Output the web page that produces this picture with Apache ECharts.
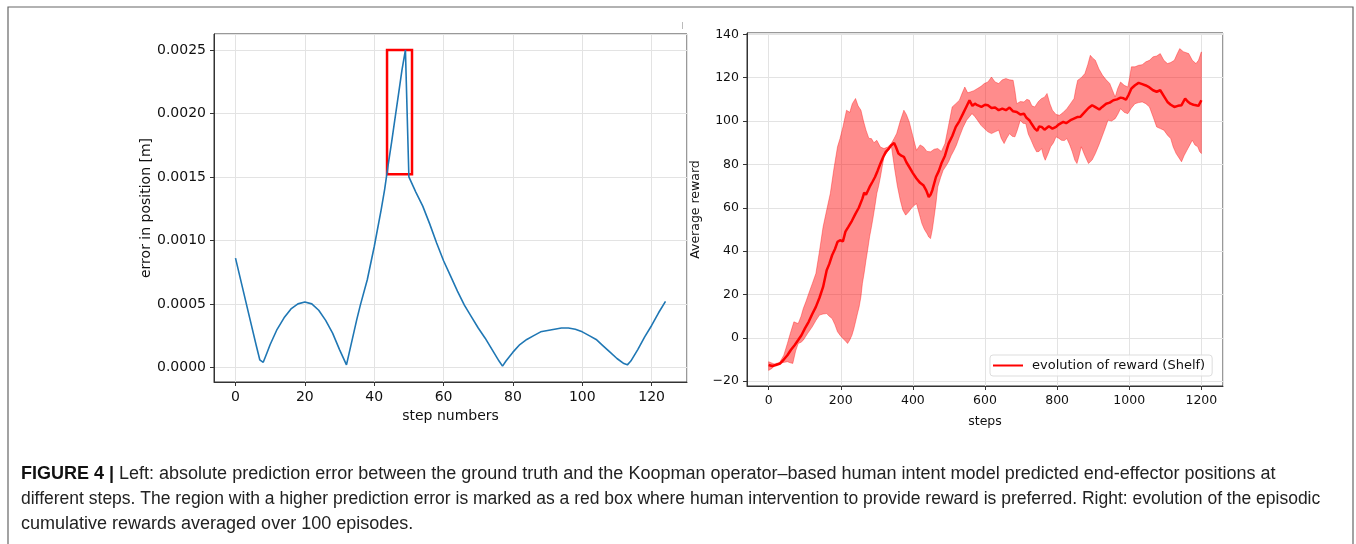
<!DOCTYPE html>
<html>
<head>
<meta charset="utf-8">
<style>
  html, body { margin: 0; padding: 0; background: #fff; }
  #main { width: 1356px; height: 544px; }
</style>
<script src="https://cdn.jsdelivr.net/npm/echarts@6/dist/echarts.min.js"></script>
</head>
<body>
<div id="main"></div>
<script>
// left panel: error in position vs step number
const errorSteps = [
  [0, 0.00086], [2, 0.00063], [4, 0.00040], [6, 0.00017], [7, 0.00006], [8, 0.00004],
  [9, 0.00011], [10, 0.00018], [12, 0.00030], [14, 0.00039], [16, 0.00046], [18, 0.00050],
  [20, 0.000515], [22, 0.00050], [24, 0.00045], [26, 0.00037], [28, 0.00027], [30, 0.00014],
  [32, 0.00002], [33, 0.00014], [34, 0.00026], [35, 0.00038], [36, 0.00049], [38, 0.00069],
  [40, 0.00095], [42, 0.00124], [43, 0.00140], [44, 0.00159], [45, 0.00177], [46, 0.00196],
  [47, 0.00215], [48, 0.00234], [49, 0.0025], [50, 0.00150], [52, 0.00138], [54, 0.00127],
  [56, 0.00113], [58, 0.00098], [60, 0.00084], [62, 0.00072], [64, 0.00060], [66, 0.00049],
  [68, 0.00040], [70, 0.00031], [72, 0.00023], [74, 0.00014], [76, 0.00005], [77, 0.00001],
  [78, 0.00005], [80, 0.00012], [82, 0.00018], [84, 0.00022], [86, 0.00025], [88, 0.00028],
  [90, 0.00029], [92, 0.00030], [94, 0.00031], [96, 0.00031], [98, 0.00030], [100, 0.00028],
  [102, 0.00025], [104, 0.00022], [106, 0.00017], [108, 0.00012], [110, 0.00007], [112, 0.00003],
  [113, 0.00002], [114, 0.00005], [116, 0.00014], [118, 0.00024], [120, 0.00033], [122, 0.00043],
  [124, 0.00052]
];
// red box marking the high-error region: [step from, step to], [error from, error to]
const boxSteps = [43.7, 50.9];
const boxError = [0.00152, 0.0025];

// right panel: average reward vs steps
const rewardMean = [
  [0, -12.5], [10, -13], [20, -12.5], [32, -11.8], [42, -10], [52, -8], [62, -5.5], [72, -3.4],
  [82, -1], [91, 1.2], [101, 4.5], [111, 7.4], [121, 11], [131, 14.3], [141, 18.5], [151, 23.5],
  [161, 31.2], [168, 34], [176, 38.1], [184, 41], [191, 44.3], [198, 45], [206, 44.5], [213, 49],
  [221, 51.2], [231, 54], [241, 57.3], [250, 60], [260, 64.2], [265, 67], [270, 66], [280, 69.6],
  [288, 72], [295, 74.2], [302, 77], [310, 80.4], [318, 83.5], [325, 85.8], [332, 87], [340, 88.8],
  [348, 89.9], [353, 88], [360, 85], [368, 84], [375, 83.5], [382, 81], [390, 78.8], [400, 76],
  [410, 73.5], [420, 71.5], [429, 70.4], [437, 68], [444, 65], [449, 66], [454, 68.1], [464, 74.2],
  [472, 77], [479, 80.4], [489, 84], [499, 89.6], [509, 93], [519, 97.3], [529, 100], [539, 103.4],
  [548, 106.5], [557, 109.6], [565, 107], [572, 108], [579, 107.3], [590, 106.5], [600, 107.5],
  [608, 107.3], [618, 106], [628, 106.2], [638, 105], [648, 105.7], [658, 105], [668, 106.2],
  [678, 104.5], [688, 104.2], [698, 103], [708, 103.4], [715, 101.5], [723, 100.4], [730, 98.5],
  [738, 96.5], [745, 95.5], [750, 97.5], [757, 97.3], [765, 96], [777, 97.6], [787, 96.5],
  [797, 97.3], [805, 98.5], [817, 99.6], [825, 99], [837, 100.4], [845, 101], [857, 101.9],
  [865, 102], [877, 104.2], [887, 106], [897, 107.3], [905, 106.5], [917, 105.3], [925, 106.5],
  [936, 108], [946, 108.5], [956, 109.6], [966, 110], [976, 110.8], [984, 110.5], [991, 109.9],
  [998, 112], [1006, 115], [1016, 116.5], [1026, 117.6], [1036, 117], [1046, 116.4], [1056, 115.5],
  [1066, 114.2], [1076, 113.5], [1086, 114.2], [1096, 111.5], [1106, 108.8], [1115, 107.5],
  [1125, 106.5], [1135, 107], [1145, 107.3], [1155, 110.4], [1162, 109], [1170, 108], [1178, 107.5],
  [1185, 107.3], [1192, 107], [1200, 109.6]
];
const rewardUpper = [
  [0, -11], [15, -12], [30, -11.5], [42, -8], [52, -2.6], [60, 2], [70, 7.4], [76, 7], [82, 6.6],
  [90, 10], [96, 13.5], [104, 17], [111, 20.4], [121, 25], [131, 29.7], [141, 40], [151, 51.2],
  [161, 59], [171, 66.6], [181, 78], [191, 88.1], [198, 92], [206, 97.3], [216, 105], [225, 104],
  [232, 108], [241, 110.4], [248, 107], [256, 105], [263, 100], [270, 95.8], [278, 92], [285, 91.9],
  [292, 90], [300, 91.1], [310, 88], [320, 87.3], [330, 88], [340, 89.6], [348, 92], [355, 94.2],
  [365, 100], [375, 105], [382, 103], [390, 99.6], [400, 93], [410, 86.5], [420, 89], [429, 88.1],
  [439, 86], [449, 85.8], [459, 87], [469, 87.3], [479, 86], [489, 89.6], [499, 98], [509, 106.5],
  [519, 108], [529, 109.6], [537, 113], [544, 115.7], [552, 113], [559, 113.4], [569, 114],
  [579, 115], [589, 116], [598, 117.3], [608, 118], [618, 120.3], [628, 118], [638, 117.3],
  [648, 119], [658, 119.6], [668, 119], [678, 118.8], [683, 114], [688, 108], [698, 109],
  [708, 108.8], [716, 110], [723, 109.6], [730, 107], [738, 106.5], [748, 109], [757, 110.4],
  [765, 111], [772, 112.7], [780, 108], [787, 105], [797, 103], [807, 102.7], [817, 104],
  [827, 105.7], [837, 108], [847, 110.4], [852, 115], [857, 118.8], [867, 120], [877, 121.9],
  [885, 126], [892, 130.3], [899, 129], [906, 128], [916, 124], [926, 121.1], [936, 119],
  [946, 117.3], [954, 114], [961, 111.1], [968, 115], [976, 118], [986, 116.5], [996, 115.7],
  [1001, 120], [1006, 125], [1016, 125], [1026, 125.7], [1036, 126], [1046, 127.3], [1056, 128],
  [1066, 129.6], [1076, 130], [1086, 131.1], [1096, 128], [1106, 126.5], [1115, 127], [1125, 128],
  [1133, 131], [1140, 133.4], [1150, 132], [1165, 131.1], [1175, 128], [1185, 126.5], [1192, 128],
  [1200, 131.9]
];
const rewardLower = [
  [0, -15], [10, -14], [22, -11.8], [37, -11.5], [52, -11], [60, -11.5], [67, -11.8], [75, -6],
  [82, -2.6], [90, -2], [96, -1.1], [108, 2], [121, 5.1], [131, 8], [141, 10.5], [151, 11],
  [161, 11.2], [168, 10], [176, 8.9], [184, 6], [191, 2.8], [199, 1], [206, -0.3], [213, -1.5],
  [219, -2.6], [225, -1], [231, 1.2], [236, 4], [241, 7.4], [246, 11], [251, 14.3], [256, 19],
  [260, 25.1], [265, 30], [270, 35.8], [275, 41], [280, 46.6], [285, 51], [290, 55.8], [295, 61],
  [300, 66.6], [305, 70], [310, 74.2], [315, 79], [320, 83.5], [330, 86], [340, 88.8], [345, 83],
  [350, 77.3], [357, 70], [365, 63.5], [372, 59], [380, 56.6], [388, 58], [395, 59.6], [403, 61],
  [410, 61.9], [418, 57], [425, 52.7], [432, 50], [439, 48.1], [444, 46.5], [449, 45.8], [454, 50],
  [459, 55.8], [464, 62], [469, 69.6], [477, 74], [484, 77.3], [491, 79], [499, 81.2], [506, 84],
  [514, 86.5], [521, 89], [529, 92.7], [539, 97], [549, 100.4], [557, 102], [564, 103.4],
  [572, 102], [579, 100.4], [589, 98], [598, 96.5], [608, 95], [618, 94.2], [628, 95], [638, 95.8],
  [645, 92], [653, 89.6], [660, 92], [668, 94.2], [675, 93], [683, 92.7], [690, 96], [698, 100.4],
  [705, 99], [713, 98.8], [720, 94], [728, 91.1], [736, 88], [743, 85.8], [750, 86], [757, 87.3],
  [762, 84], [767, 81.9], [775, 85], [782, 88.1], [790, 90], [797, 92.7], [805, 92], [812, 91.1],
  [820, 91], [827, 91.9], [835, 89], [842, 85.8], [849, 82], [855, 80.4], [861, 84], [867, 88.1],
  [877, 84], [887, 80.4], [897, 82], [906, 85], [916, 89], [926, 93.4], [934, 97], [941, 100.4],
  [951, 100], [961, 101.1], [968, 103], [976, 105.7], [986, 104], [996, 103.4], [1006, 106],
  [1016, 108], [1026, 108.5], [1036, 108.8], [1046, 108], [1056, 106.5], [1066, 102], [1076, 97.3],
  [1086, 96.5], [1096, 95.8], [1106, 93.5], [1115, 91.9], [1122, 88], [1130, 85], [1138, 83],
  [1145, 81.2], [1152, 84], [1160, 86.5], [1168, 89], [1175, 91.1], [1182, 89], [1190, 88.1],
  [1195, 86], [1200, 85]
];

const captionLines = [
  '{b|FIGURE 4 |} Left: absolute prediction error between the ground truth and the Koopman operator\u2013based human intent model predicted end-effector positions at',
  'different steps. The region with a higher prediction error is marked as a red box where human intervention to provide reward is preferred. Right: evolution of the episodic',
  'cumulative rewards averaged over 100 episodes.'
];
const captionSizes = [18, 17.5, 18];

const mplFont = 'DejaVu Sans';
const minus = v => String(v).replace('-', '\u2212');

function axisCommon(fontSize) {
  return {
    axisLine: { show: true, onZero: false, lineStyle: { color: '#333', width: 1 } },
    axisTick: { show: true, inside: false, length: 4, lineStyle: { color: '#333' } },
    axisLabel: { color: '#111', fontFamily: mplFont, fontSize: fontSize, showMinLabel: false, showMaxLabel: false },
    splitLine: { show: true, lineStyle: { color: '#e3e3e3', width: 1 } },
    nameLocation: 'middle',
    nameTextStyle: { color: '#111', fontFamily: mplFont, fontSize: fontSize }
  };
}

const chart = echarts.init(document.getElementById('main'));
chart.setOption({
  animation: false,
  backgroundColor: '#fff',
  grid: [
    { left: 214, top: 34, width: 473, height: 348, show: true, borderColor: '#333', borderWidth: 1, backgroundColor: 'transparent' },
    { left: 747, top: 33, width: 476, height: 353, show: true, borderColor: '#333', borderWidth: 1, backgroundColor: 'transparent' }
  ],
  xAxis: [
    Object.assign(axisCommon(14), {
      type: 'value', gridIndex: 0, min: -6.2, max: 130.2, splitNumber: 7,
      name: 'step numbers', nameGap: 24
    }),
    Object.assign(axisCommon(12.5), {
      type: 'value', gridIndex: 1, min: -60, max: 1260, splitNumber: 6,
      name: 'steps', nameGap: 29
    })
  ],
  yAxis: [
    Object.assign(axisCommon(14), {
      type: 'value', gridIndex: 0, min: -0.000115, max: 0.002625, splitNumber: 5,
      name: 'error in position [m]', nameGap: 61
    }),
    Object.assign(axisCommon(12.5), {
      type: 'value', gridIndex: 1, min: -22.2, max: 140.6, splitNumber: 8,
      name: 'Average reward', nameGap: 45
    })
  ],
  legend: {
    data: ['evolution of reward (Shelf)'],
    left: 990, top: 355,
    itemWidth: 30, itemHeight: 2, icon: 'rect', itemGap: 0,
    padding: [4, 7, 4, 3],
    borderColor: '#ddd', borderWidth: 1, borderRadius: 3,
    backgroundColor: 'rgba(255,255,255,0.8)',
    textStyle: { fontFamily: mplFont, fontSize: 13, color: '#111', padding: [0, 0, 0, 4] }
  },
  series: [
    {
      name: 'error', type: 'line', xAxisIndex: 0, yAxisIndex: 0,
      data: errorSteps, showSymbol: false, symbol: 'none',
      lineStyle: { color: '#1f77b4', width: 1.6 },
      markArea: {
        silent: true,
        itemStyle: { color: 'rgba(0,0,0,0)', borderColor: '#ff0000', borderWidth: 2.5 },
        data: [[{ coord: [boxSteps[0], boxError[0]] }, { coord: [boxSteps[1], boxError[1]] }]]
      }
    },
    {
      name: 'band', type: 'custom', xAxisIndex: 1, yAxisIndex: 1,
      data: [[0, 0]], silent: true,
      renderItem: function (params, api) {
        const pts = rewardUpper.map(p => api.coord(p))
          .concat(rewardLower.slice().reverse().map(p => api.coord(p)));
        return {
          type: 'polygon', shape: { points: pts },
          style: { fill: 'rgba(255,0,0,0.45)', stroke: 'rgba(255,0,0,0.35)', lineWidth: 1 }
        };
      }
    },
    {
      name: 'evolution of reward (Shelf)', type: 'line', xAxisIndex: 1, yAxisIndex: 1,
      data: rewardMean, showSymbol: false, symbol: 'none',
      itemStyle: { color: '#ff0000' },
      lineStyle: { color: '#ff0000', width: 2.5 }
    }
  ],
  graphic: [
    { type: 'rect', silent: true, shape: { x: 8, y: 7, width: 1345, height: 560 },
      style: { fill: 'none', stroke: '#666', lineWidth: 1.2 } },
    { type: 'line', silent: true, shape: { x1: 682.5, y1: 22, x2: 682.5, y2: 29 },
      style: { stroke: '#bbb', lineWidth: 1 } }
  ].concat(captionLines.map((t, i) => ({
    type: 'text', silent: true, x: 21, y: 474 + i * 25,
    style: {
      text: t, fill: '#222', font: captionSizes[i] + 'px "Liberation Sans", Arial, sans-serif',
      verticalAlign: 'middle',
      rich: { b: { fontWeight: 'bold', fontSize: captionSizes[i], fontFamily: 'Liberation Sans', fill: '#111' } }
    }
  })))
});

// tick labels: matplotlib style formatting
chart.setOption({
  xAxis: [{}, { axisLabel: { formatter: v => minus(v) } }],
  yAxis: [{ axisLabel: { formatter: v => v.toFixed(4) } }, { axisLabel: { formatter: v => minus(v) } }]
});
</script>
</body>
</html>
